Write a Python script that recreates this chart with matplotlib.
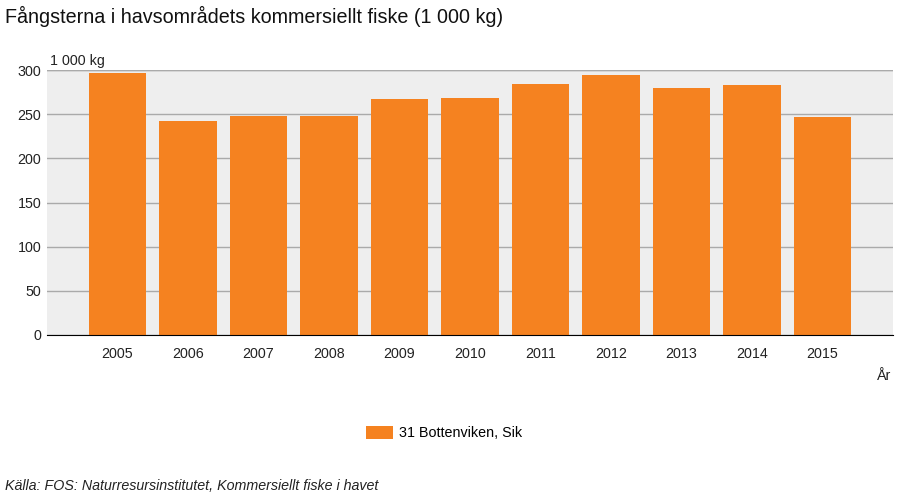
import matplotlib.pyplot as plt
import numpy as np

plt.rcParams['font.family'] = ['Liberation Sans', 'DejaVu Sans']

# Data
years = ['2005', '2006', '2007', '2008', '2009', '2010',
         '2011', '2012', '2013', '2014', '2015']
catch = [297, 242, 248, 248, 267, 268, 284, 294, 280, 283, 247]
series_label = '31 Bottenviken, Sik'
y_ticks = [0, 50, 100, 150, 200, 250, 300]

bar_color = '#F58220'
fs = 10.3

fig = plt.figure(figsize=(9, 5), dpi=100)
ax = fig.add_axes([47 / 900, 1 - 335 / 500, (893 - 47) / 900, (335 - 70) / 500])

x = np.arange(len(years))
ax.bar(x, catch, width=0.81, color=bar_color, zorder=3, label=series_label)

ax.set_facecolor('#EEEEEE')
ax.set_xlim(-1, len(years))
ax.set_ylim(0, 300)
ax.set_yticks(y_ticks)
ax.set_xticks(x)
ax.set_xticklabels(years)
ax.yaxis.grid(True, color='#AAAAAA', linewidth=1, zorder=1)
ax.set_axisbelow(True)

for side in ['top', 'right', 'left']:
    ax.spines[side].set_visible(False)
ax.spines['bottom'].set_color('black')
ax.spines['bottom'].set_zorder(4)
ax.tick_params(axis='both', length=0, labelsize=fs, colors='#222222')
ax.tick_params(axis='y', pad=4)
ax.tick_params(axis='x', pad=9)

# top gridline at 300
ax.axhline(300, color='#AAAAAA', linewidth=1, zorder=1)

fig.text(5 / 900, 1 - 16 / 500, 'Fångsterna i havsområdets kommersiellt fiske (1 000 kg)',
         fontsize=14.2, va='center', ha='left', color='#111111')
fig.text(50 / 900, 1 - 61 / 500, '1 000 kg', fontsize=fs, va='center', ha='left',
         color='#222222')
fig.text(891 / 900, 1 - 376 / 500, 'År', fontsize=fs, va='center', ha='right',
         color='#222222')
fig.text(5 / 900, 1 - 486 / 500, 'Källa: FOS: Naturresursinstitutet, Kommersiellt fiske i havet',
         fontsize=fs, style='italic', va='center', ha='left', color='#222222')

leg = fig.legend(loc='center', bbox_to_anchor=(444 / 900, 1 - 433 / 500), frameon=False,
                 fontsize=fs, handlelength=1.9, handleheight=1.0, handletextpad=0.45)

fig.savefig('out.png', dpi=100)
